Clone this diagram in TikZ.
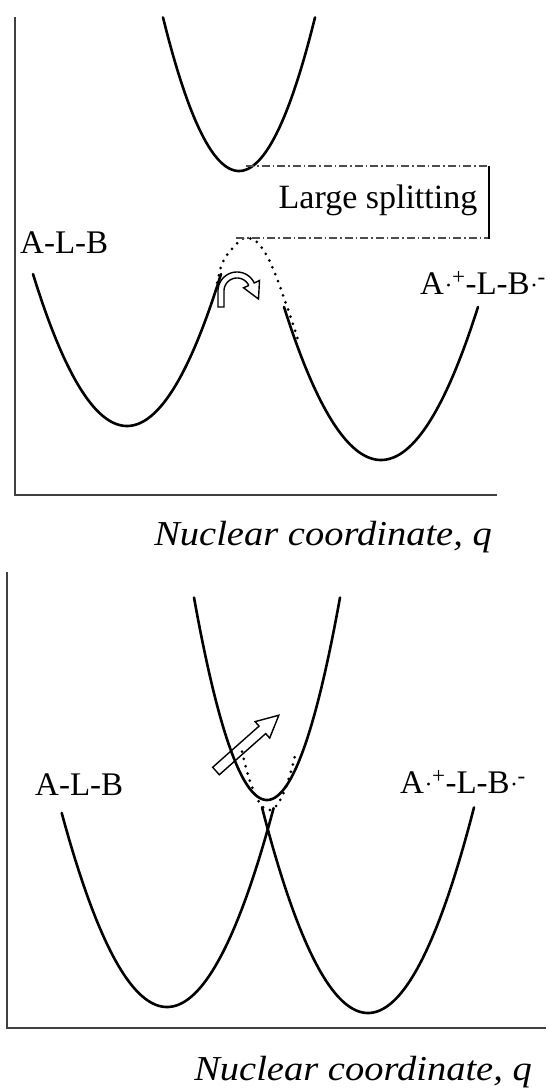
\documentclass[tikz,border=0pt]{standalone}
\usepackage{fontspec}
\usepackage{graphicx}
\setmainfont{Liberation Serif}
\newcommand{\rdot}{\kern0.5pt\raisebox{1pt}{\fontsize{24}{24}\selectfont·}\kern-0.5pt}
\begin{document}
\begin{tikzpicture}[x=1pt,y=-1pt,
  curve/.style={line width=2.6pt, line cap=round, line join=round},
  axis/.style={line width=1.8pt, black!75},
  dotline/.style={line width=3pt, line cap=round, dash pattern=on 0pt off 7.5pt},
  dashdotline/.style={line width=1.3pt, black!70, dash pattern=on 8pt off 3pt on 1.5pt off 3pt},
  lbl/.style={inner sep=0pt, font=\fontsize{33}{38}\selectfont},
  axlbl/.style={inner sep=0pt, font=\fontsize{35}{40}\selectfont\itshape},
  hollow/.style={line width=1.4pt, line join=miter, fill=white}
]
\useasboundingbox (0,0) rectangle (547,1092);

% ---------------- top panel ----------------
\draw[axis] (15,17) -- (15,495) -- (497,495);
\draw[curve] plot[domain=163:315, samples=80] ({\x},{171-0.0266*(\x-239)^2});
\draw[curve] plot[domain=33:221, samples=80] ({\x},{426-0.0172*(\x-127)^2});
\draw[curve] plot[domain=284:478, samples=80] ({\x},{460-0.01626*(\x-381)^2});
\draw[dotline] plot[smooth, tension=0.7] coordinates {(216,290) (222,264) (232,249) (241,240) (248,238) (257,242) (267,256) (276,276) (284,298) (291,318) (298,340)};
\draw[dashdotline] (246,166) -- (488,166);
\draw[dashdotline] (236,238) -- (488,238);
\draw[line width=1.4pt] (489,166) -- (489,239);
\draw[hollow] (218,307) -- plot[domain=180:335, samples=40] ({237+19*cos(\x)},{291+19*sin(\x)})
  -- (259.5,280.5) -- (258.5,299) -- (243.5,287.8) -- (248.8,285.5)
  -- plot[domain=335:180, samples=40] ({237+13*cos(\x)},{291+13*sin(\x)})
  -- (224,307) -- cycle;
\node[lbl, anchor=base, font=\fontsize{34}{40}\selectfont] (split) at (378,208) {Large splitting};
\node[lbl, anchor=base west] (alb1) at (20,253) {A-L-B};
\node[lbl, anchor=base west] (ct1) at (420,294) {A\rdot\textsuperscript{+}-L-B\rdot\textsuperscript{-}};
\node[axlbl, anchor=base east] (q1) at (492,545) {\scalebox{1.1}[1]{Nuclear coordinate, q}};

% ---------------- bottom panel ----------------
\draw[axis] (7,572) -- (7,1028) -- (546,1028);
\draw[curve] plot[domain=194:340, samples=80] ({\x},{800-0.038*(\x-267)^2});
\draw[curve] plot[domain=61.7:273.6, samples=80] ({\x},{1007-0.0175*(\x-167)^2});
\draw[curve] plot[domain=262:474, samples=80] ({\x},{1013-0.0183*(\x-368)^2});
\draw[dotline] plot[domain=242:296, samples=60, smooth] ({\x},{810-0.08*(\x-269)^2});
\begin{scope}[shift={(216,771)}, rotate=41.6]
  \draw[line width=1.4pt, line join=miter] (0,5) -- (62,5) -- (62,11) -- (84,0) -- (62,-11) -- (62,-5) -- (0,-5) -- cycle;
\end{scope}
\node[lbl, anchor=base west] (alb2) at (35,795) {A-L-B};
\node[lbl, anchor=base west] (ct2) at (400,793) {A\rdot\textsuperscript{+}-L-B\rdot\textsuperscript{-}};
\node[axlbl, anchor=base east] (q2) at (532,1080) {\scalebox{1.1}[1]{Nuclear coordinate, q}};
\end{tikzpicture}
\end{document}
